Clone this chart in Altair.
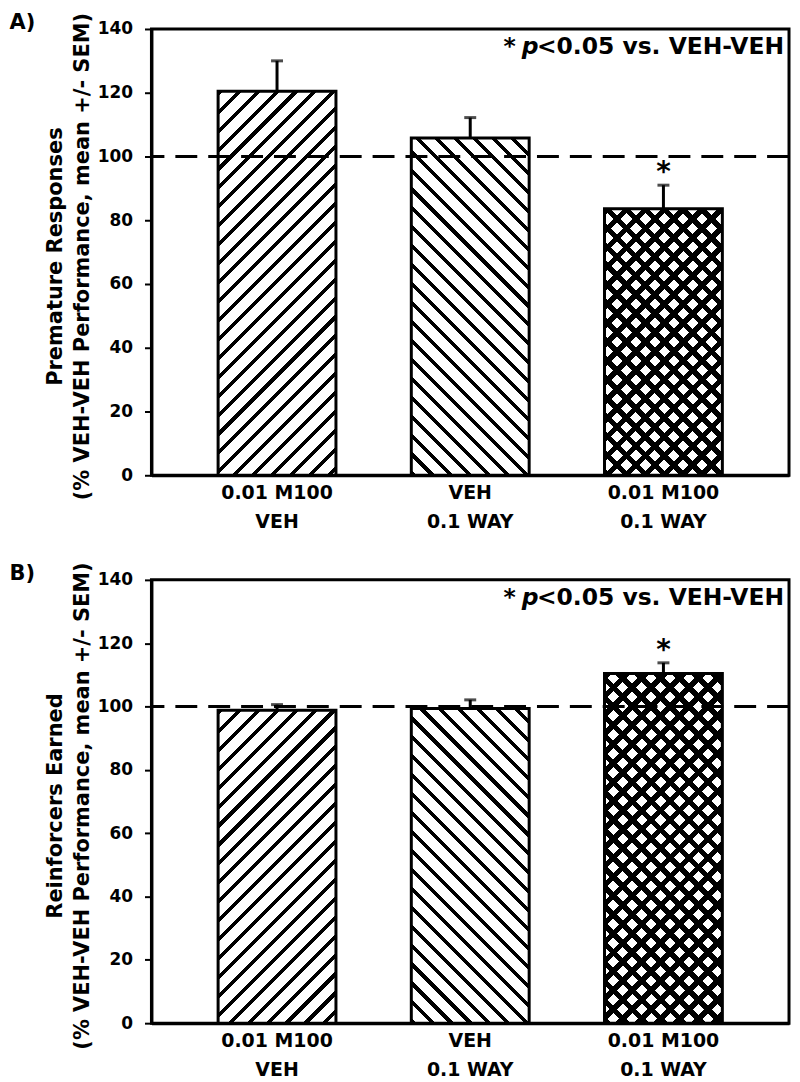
import altair as alt
import pandas as pd

# ---------------- data ----------------
groups = ["0.01 M100|VEH", "VEH|0.1 WAY", "0.01 M100|0.1 WAY"]
hatches = ["/", "\\", "x"]
premature_mean = [120.5, 105.8, 83.6]
premature_sem = [9.5, 6.4, 7.4]
premature_sig = [False, False, True]
reinforcers_mean = [98.8, 99.4, 110.4]
reinforcers_sem = [1.8, 2.7, 3.4]
reinforcers_sig = [False, False, True]
y_ticks = [0, 20, 40, 60, 80, 100, 120, 140]
reference_level = [100]
panel_labels = ["A)", "B)"]
y_titles = [
    ["Premature Responses", "(% VEH-VEH Performance, mean +/- SEM)"],
    ["Reinforcers Earned", "(% VEH-VEH Performance, mean +/- SEM)"],
]
note_parts = ["*", "p", "<0.05 vs. VEH-VEH"]

# ---------------- style / layout ----------------
FONT = "DejaVu Sans"
W = 640
HEIGHTS = [448, 445]
Y_MAX = 140
P_INNER = 0.39
P_OUTER = 0.345
STEP = W / (len(groups) - P_INNER + 2 * P_OUTER)
BAND = STEP * (1 - P_INNER)
PERIOD = 19.0
NOTE_FS = 23.5
NOTE_RIGHT = W - 5
REST_W = 10.45 * NOTE_FS  # approx. rendered width of the right-hand part


def stripe_gradient(w, h, direction, frac, bg):
    """Linear gradient with hard stops -> diagonal hatch at 45 degrees."""
    L = w + h
    n = L / PERIOD
    stops = []
    k = 0
    while k < n:
        a = round(k / n, 5)
        b = round(min((k + frac) / n, 1), 5)
        c = round(min((k + 1) / n, 1), 5)
        stops += [
            {"offset": a, "color": "black"},
            {"offset": b, "color": "black"},
            {"offset": b, "color": bg},
            {"offset": c, "color": bg},
        ]
        k += 1
    s = (w + h) / (w * w + h * h)
    if direction == "/":
        x1, y1, x2, y2 = 0, 0, w * s, h * s
    else:
        x1, y1, x2, y2 = 0, 1, w * s, 1 - h * s
    return {"gradient": "linear", "x1": x1, "y1": y1, "x2": x2, "y2": y2, "stops": stops}


def text_layer(t, x, y, fs, align, baseline, style="normal"):
    return (
        alt.Chart(pd.DataFrame({"t": [t]}))
        .mark_text(font=FONT, fontSize=fs, fontWeight="bold", fontStyle=style, align=align,
                   baseline=baseline, color="black")
        .encode(x=alt.value(x), y=alt.value(y), text="t:N")
    )


def panel(means, sems, sigs, height, label, title):
    df = pd.DataFrame({
        "group": groups,
        "mean": means,
        "top": [m + s for m, s in zip(means, sems)],
        "sig": ["*" if s else "" for s in sigs],
    })
    base = alt.Chart(df)
    x = alt.X(
        "group:N", sort=groups,
        scale=alt.Scale(paddingInner=P_INNER, paddingOuter=P_OUTER),
        axis=alt.Axis(title=None, labelExpr="split(datum.label, '|')", labelAngle=0,
                      ticks=False, labelFontSize=19, labelFontWeight="bold",
                      labelLineHeight=29, labelPadding=8.5, labelBaseline="top"),
    )
    y = alt.Y(
        "mean:Q", scale=alt.Scale(domain=[0, Y_MAX], nice=False),
        axis=alt.Axis(values=y_ticks, title=title, titleFontSize=21, titleFontWeight="bold",
                      titleLineHeight=27, titlePadding=5, titleY=height / 2 + 4, labelFontSize=17,
                      labelFontWeight="bold", labelPadding=12, tickSize=7, tickWidth=2),
    )
    layers = []
    for g, m, hch in zip(groups, means, hatches):
        h = m / Y_MAX * height
        if hch == "x":
            fills = [stripe_gradient(BAND, h, "/", 0.4, "white"),
                     stripe_gradient(BAND, h, "\\", 0.4, "rgba(0,0,0,0)")]
        else:
            fills = [stripe_gradient(BAND, h, hch, 0.27, "white")]
        for f in fills:
            layers.append(
                base.transform_filter(alt.datum.group == g)
                .mark_bar(fill=f, strokeWidth=0)
                .encode(x=x, y=y)
            )
    layers.append(base.mark_bar(fillOpacity=0, stroke="black", strokeWidth=3).encode(x=x, y=y))
    layers.append(
        alt.Chart(pd.DataFrame({"v": reference_level}))
        .mark_rule(strokeDash=[22, 11], strokeWidth=3, color="black")
        .encode(y="v:Q")
    )
    layers.append(base.mark_rule(strokeWidth=3, color="black").encode(x=x, y="mean:Q", y2="top:Q"))
    layers.append(base.mark_tick(size=12, thickness=3, color="black").encode(x=x, y="top:Q"))
    layers.append(
        base.mark_text(fontSize=28, font=FONT, fontWeight="bold", baseline="alphabetic", dy=-4, color="black")
        .encode(x=x, y="top:Q", text="sig:N")
    )
    # panel letter
    layers.append(text_layer(label, -142.5, -17, 21, "left", "top"))
    # significance note: "* p<0.05 vs. VEH-VEH"
    rest_left = NOTE_RIGHT - REST_W
    layers.append(text_layer(note_parts[2], NOTE_RIGHT, 25, NOTE_FS, "right", "alphabetic"))
    layers.append(text_layer(note_parts[1], rest_left - 1, 25, NOTE_FS, "right", "alphabetic", "italic"))
    layers.append(text_layer(note_parts[0], rest_left - 1 - 0.716 * NOTE_FS - 6, 25, NOTE_FS, "right", "alphabetic"))
    return alt.layer(*layers).properties(width=W, height=height)


pA = panel(premature_mean, premature_sem, premature_sig, HEIGHTS[0], panel_labels[0], y_titles[0])
pB = panel(reinforcers_mean, reinforcers_sem, reinforcers_sig, HEIGHTS[1], panel_labels[1], y_titles[1])

chart = (
    alt.vconcat(pA, pB, spacing=105, bounds="flush")
    .properties(padding=0)
    .configure_view(stroke="black", strokeWidth=3)
    .configure_axis(domainColor="black", domainWidth=3, labelColor="black", tickColor="black",
                    titleColor="black", labelFont=FONT, titleFont=FONT, grid=False)
)

chart.save("out.html", embed_options={"renderer": "svg", "actions": False})
